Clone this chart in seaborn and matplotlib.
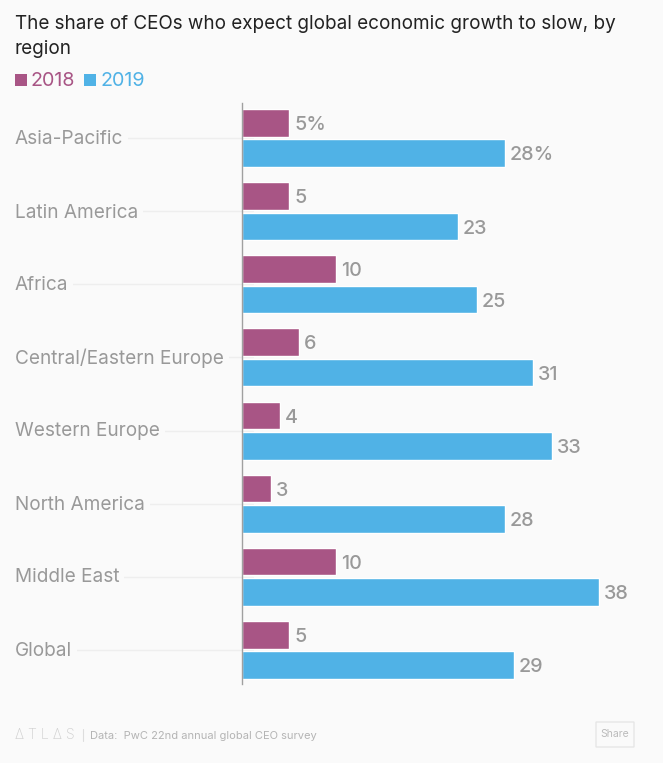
import matplotlib
matplotlib.use("Agg")
import matplotlib.pyplot as plt
from matplotlib.patches import Rectangle, FancyBboxPatch
import seaborn as sns
import pandas as pd

regions = ["Asia-Pacific", "Latin America", "Africa", "Central/Eastern Europe",
           "Western Europe", "North America", "Middle East", "Global"]
values_2018 = [5, 5, 10, 6, 4, 3, 10, 5]
values_2019 = [28, 23, 25, 31, 33, 28, 38, 29]
labels_2018 = ["5%", "5", "10", "6", "4", "3", "10", "5"]
labels_2019 = ["28%", "23", "25", "31", "33", "28", "38", "29"]
title_lines = ["The share of CEOs who expect global economic growth to slow, by", "region"]
source = "Data:  PwC 22nd annual global CEO survey"

BG = "#fafafa"
C18 = "#a85585"
C19 = "#50b2e6"
GREY = "#999999"
W, H = 663, 763
sns.set_theme(style="white")
plt.rcParams["font.family"] = ["Inter", "DejaVu Sans"]

df = pd.DataFrame({
    "region": regions * 2,
    "value": values_2018 + values_2019,
    "year": ["2018"] * 8 + ["2019"] * 8,
})

fig = plt.figure(figsize=(W / 100, H / 100), dpi=100, facecolor=BG)
ax = fig.add_axes([242.5 / W, 1 - 684 / H, (W - 242.5) / W, (684 - 103) / H], facecolor="none")
sns.barplot(data=df, y="region", x="value", hue="year", order=regions, orient="h",
            palette={"2018": C18, "2019": C19}, width=0.83, gap=0.09,
            legend=False, ax=ax, saturation=1, zorder=3, err_kws={"linewidth": 0})
ax.set_xlim(0, (W - 242.5) / 9.37)
ax.set_ylim(7.466, -0.479)
ax.set(xlabel="", ylabel="", xticks=[], yticks=[])
for s in ["top", "right", "bottom"]:
    ax.spines[s].set_visible(False)
ax.spines["left"].set_color("#a0a0a0")
ax.spines["left"].set_linewidth(1)
ax.spines["left"].set_zorder(5)

trans = ax.get_yaxis_transform()
for i, r in enumerate(regions):
    ax.plot([-0.45, 0.025], [i, i], transform=trans, color="#eeeeee", lw=1,
            clip_on=False, zorder=1)
    fig_y = 1 - (139.5 + 73 * i) / H
    fig.text(15 / W, fig_y, r, color=GREY, fontsize=13.7, va="center", ha="left",
             bbox=dict(facecolor=BG, edgecolor="none", pad=3.5), zorder=2)

for cont, labs in zip(ax.containers, [labels_2018, labels_2019]):
    anns = ax.bar_label(cont, labels=labs, padding=3.5, color=GREY, fontsize=14.2,
                        fontweight="medium", zorder=6)
    for a in anns:
        a.xyann = (a.xyann[0], -1.6)

for i, line in enumerate(title_lines):
    fig.text(15 / W, 1 - (24 + 25 * i) / H, line, color="#222222", fontsize=13.6,
             va="center", ha="left")

fig.add_artist(Rectangle((15 / W, 1 - 86 / H), 12 / W, 12.5 / H, transform=fig.transFigure,
                         facecolor=C18, edgecolor="none"))
fig.text(31 / W, 1 - 81 / H, "2018", color=C18, fontsize=14.2, va="center", ha="left")
fig.add_artist(Rectangle((84 / W, 1 - 86 / H), 12 / W, 12.5 / H, transform=fig.transFigure,
                         facecolor=C19, edgecolor="none"))
fig.text(100 / W, 1 - 81 / H, "2019", color=C19, fontsize=14.2, va="center", ha="left")

fig.text(15 / W, 1 - 735 / H, "Δ T L Δ S", color="#cfcfcf", fontsize=10.2, va="center", ha="left",
         fontweight="light")
fig.add_artist(plt.Line2D([82.5 / W, 82.5 / W], [1 - 741 / H, 1 - 729 / H], color="#dddddd", lw=0.8))
fig.text(90 / W, 1 - 736 / H, source, color="#b4b4b4", fontsize=8, va="center", ha="left")
fig.add_artist(FancyBboxPatch((596 / W, 1 - 747 / H), 38 / W, 25 / H, transform=fig.transFigure,
                              boxstyle="round,pad=0", facecolor=BG, edgecolor="#e6e6e6", lw=1))
fig.text(615 / W, 1 - 734 / H, "Share", color="#bbbbbb", fontsize=7.5, va="center", ha="center")

fig.savefig("out.png", dpi=100, facecolor=BG)
